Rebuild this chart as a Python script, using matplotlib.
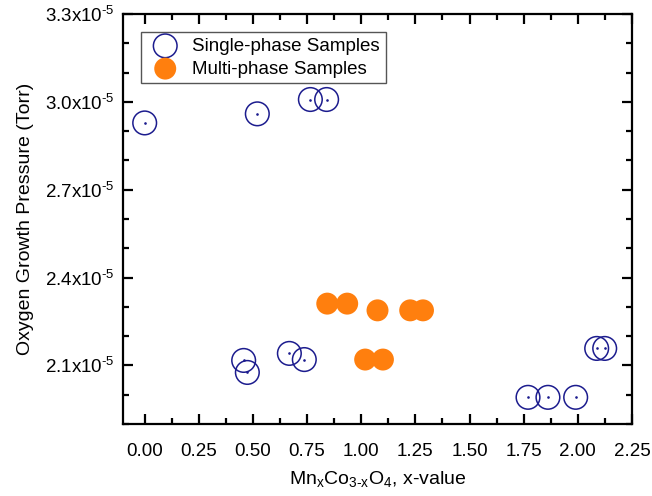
import matplotlib
matplotlib.use("Agg")
import matplotlib.pyplot as plt
from matplotlib.ticker import MultipleLocator, FuncFormatter

plt.rcParams['font.family'] = ['Liberation Sans', 'DejaVu Sans']
plt.rcParams['mathtext.fontset'] = 'custom'
plt.rcParams['mathtext.rm'] = 'Liberation Sans'
plt.rcParams['mathtext.it'] = 'Liberation Sans'
plt.rcParams['mathtext.bf'] = 'Liberation Sans:bold'

# Single-phase samples (x-value, pressure in Torr)
single_x = [0.00, 0.52, 0.765, 0.84, 0.457, 0.474, 0.668, 0.737, 1.77, 1.862, 1.99, 2.087, 2.124]
single_y = [2.928e-5, 2.959e-5, 3.008e-5, 3.008e-5, 2.117e-5, 2.076e-5, 2.141e-5, 2.12e-5,
            1.991e-5, 1.991e-5, 1.991e-5, 2.158e-5, 2.158e-5]

# Multi-phase samples
multi_x = [0.843, 0.935, 1.075, 1.226, 1.285, 1.018, 1.10]
multi_y = [2.311e-5, 2.311e-5, 2.288e-5, 2.288e-5, 2.288e-5, 2.12e-5, 2.12e-5]

fig = plt.figure(figsize=(6.52, 4.96), dpi=100)
ax = fig.add_axes([0.1887, 0.1452, 0.7806, 0.8266])

navy = '#1c1c8e'
orange = '#ff7f0e'

ax.scatter(multi_x, multi_y, s=250, color=orange, edgecolors='none', zorder=3,
           label='Multi-phase Samples')
ax.scatter(single_x, single_y, s=290, facecolors='none', edgecolors=navy, linewidths=1.1,
           zorder=4, label='Single-phase Samples')
ax.scatter(single_x, single_y, s=0.8, color=navy, zorder=5)

ax.set_xlim(-0.1, 2.25)
ax.set_ylim(1.9e-5, 3.3e-5)
ax.xaxis.set_major_locator(MultipleLocator(0.25))
ax.xaxis.set_minor_locator(MultipleLocator(0.125))
ax.set_yticks([2.1e-5, 2.4e-5, 2.7e-5, 3.0e-5, 3.3e-5])
ax.yaxis.set_minor_locator(MultipleLocator(0.1e-5))
ax.xaxis.set_major_formatter(FuncFormatter(lambda v, p: f"{v:.2f}"))
ax.yaxis.set_major_formatter(
    FuncFormatter(lambda v, p: f"{v*1e5:.1f}x10$^{{\\text{{-5}}}}$"))

for s in ax.spines.values():
    s.set_linewidth(1.6)
ax.tick_params(which='both', direction='in', top=True, right=True, labelsize=13.5,
               width=1.6)
ax.tick_params(axis='x', pad=14)
ax.tick_params(axis='y', pad=6)
ax.tick_params(which='major', length=7)
ax.tick_params(which='minor', length=4)

ax.set_xlabel(r"Mn$_\mathregular{x}$Co$_\text{3-x}$O$_\mathregular{4}$, x-value",
              fontsize=14, labelpad=6)
ax.set_ylabel("Oxygen Growth Pressure (Torr)", fontsize=14, labelpad=8)

handles, labels = ax.get_legend_handles_labels()
leg = ax.legend([handles[1], handles[0]], [labels[1], labels[0]], loc='upper left',
                bbox_to_anchor=(0.035, 0.956), fontsize=13.5, fancybox=False,
                edgecolor='#555555', framealpha=1, borderpad=0.3, labelspacing=0.3,
                handletextpad=0.45, borderaxespad=0)
leg.get_frame().set_linewidth(1.0)

fig.savefig("out.png", dpi=100)
